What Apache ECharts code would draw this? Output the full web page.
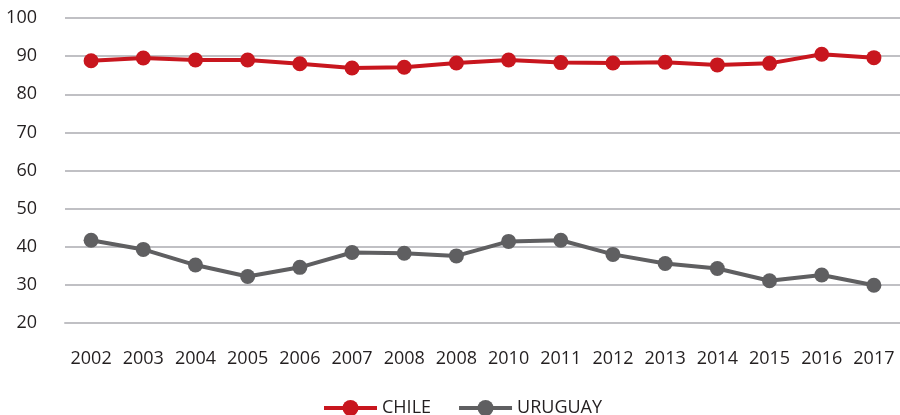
<!DOCTYPE html>
<html>
<head>
<meta charset="utf-8">
<script src="https://cdn.jsdelivr.net/npm/echarts@6/dist/echarts.min.js"></script>
<style>html,body{margin:0;padding:0;background:#fff}#c{width:900px;height:415px}</style>
</head>
<body>
<div id="c"></div>
<script>
const categories = ['2002','2003','2004','2005','2006','2007','2008','2008','2010','2011','2012','2013','2014','2015','2016','2017'];
const chile = [88.8, 89.5, 89.0, 89.0, 88.0, 86.9, 87.1, 88.2, 89.0, 88.3, 88.2, 88.4, 87.7, 88.1, 90.5, 89.6];
const uruguay = [41.7, 39.3, 35.2, 32.2, 34.6, 38.5, 38.3, 37.6, 41.4, 41.7, 38.0, 35.6, 34.3, 31.1, 32.6, 29.9];
const yTicks = {min: 20, max: 100, interval: 10};

const font = '"Open Sans", "Noto Sans", sans-serif';
const chart = echarts.init(document.getElementById('c'));
chart.setOption({
  animation: false,
  grid: {left: 65, width: 836, top: 18, bottom: 92},
  legend: {
    top: 394, left: 317,
    itemWidth: 53, itemHeight: 20, itemGap: 26,
    lineStyle: {width: 4},
    textStyle: {fontFamily: font, fontSize: 18, color: '#231f20'},
    data: ['CHILE', 'URUGUAY']
  },
  xAxis: {
    type: 'category', data: categories, boundaryGap: true,
    axisLine: {lineStyle: {color: '#c0c0c4', width: 2}},
    axisTick: {alignWithLabel: true, interval: 0, length: 7, lineStyle: {color: '#c0c0c4', width: 2}},
    axisLabel: {interval: 0, fontFamily: font, fontSize: 18, color: '#231f20', margin: 27}
  },
  yAxis: {
    type: 'value', min: yTicks.min, max: yTicks.max, interval: yTicks.interval,
    axisLine: {show: false}, axisTick: {show: false},
    splitLine: {lineStyle: {color: '#c0c0c4', width: 2}},
    axisLabel: {fontFamily: font, fontSize: 18, color: '#231f20', margin: 28}
  },
  series: [
    {name: 'CHILE', type: 'line', data: chile, symbol: 'circle', symbolSize: 15,
     lineStyle: {color: '#c8161e', width: 4}, itemStyle: {color: '#c8161e'}},
    {name: 'URUGUAY', type: 'line', data: uruguay, symbol: 'circle', symbolSize: 15,
     lineStyle: {color: '#5f5f61', width: 4}, itemStyle: {color: '#5f5f61'}}
  ]
});
</script>
</body>
</html>
